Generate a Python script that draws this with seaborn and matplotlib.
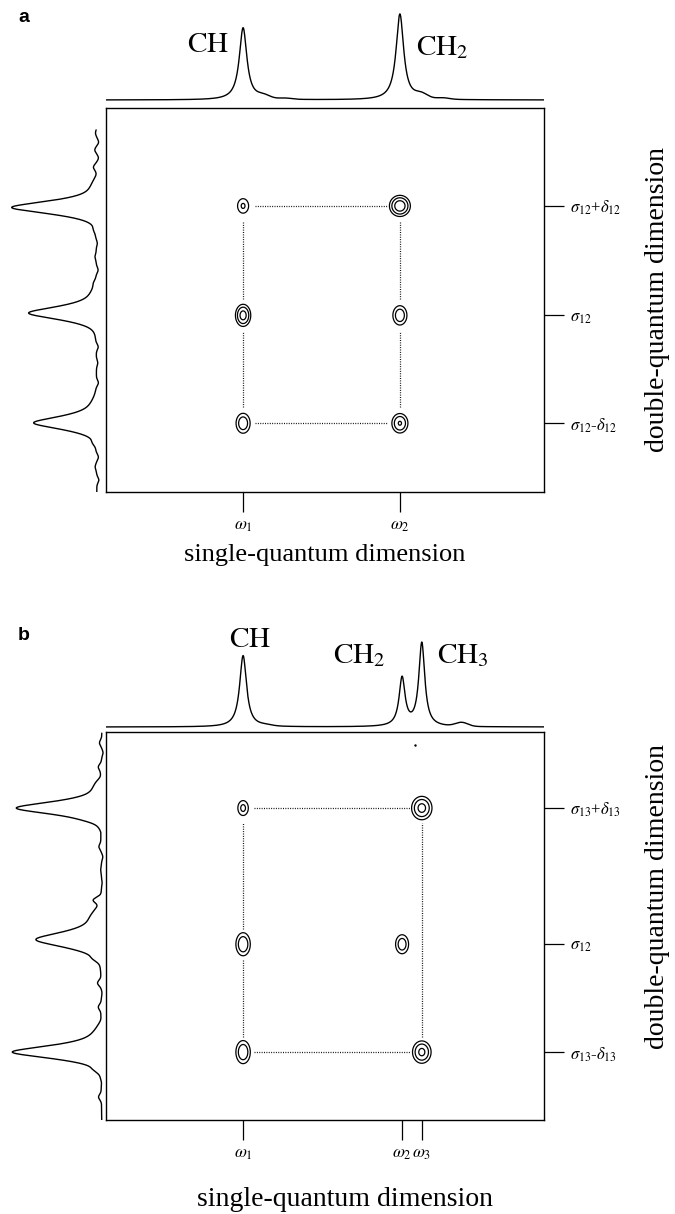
import numpy as np
import pandas as pd
import matplotlib
matplotlib.use("Agg")
import matplotlib.pyplot as plt
import seaborn as sns

# ---------------- data (arbitrary frequency units, 0-100 across each 2D box) ----------------
# ---- panel a : single-quantum (top) projection
a_sq_pos = [31.3, 67.1]            # CH, CH2
a_sq_height = [0.84, 1.0]
a_sq_hwhm = [1.05, 1.05]
a_sq_minor_pos = [36.0, 72.0, 41.0, 77.0]
a_sq_minor_amp = [0.035, 0.05, 0.012, 0.015]
# ---- panel a : double-quantum (left) projection
a_dq_pos = [74.1, 46.6, 18.0]
a_dq_height = [1.0, 0.80, 0.74]
a_dq_sigma = [1.8, 1.85, 1.85]
a_dq_shoulder_pos = [79.0, 51.3, 22.4]
a_dq_shoulder_amp = [0.05, 0.05, 0.05]
a_dq_ripple_pos = [93.5, 91.1, 89.1, 87.0, 84.6, 82.6, 68.2, 64.8, 61.2, 57.8, 54.4,
                   42.2, 37.8, 33.6, 28.4, 12.8, 9.1, 6.5, 3.1]
a_dq_ripple_amp = [0.015, -0.022, 0.022, -0.022, 0.033, -0.01, 0.015, -0.015, 0.015, -0.022, 0.015,
                   0.0, -0.025, -0.016, -0.025, 0.025, -0.025, 0.016, -0.025]
a_dq_extent = 94.3
# ---- panel a : cross peaks
a_omega = [31.3, 67.1]
a_omega_labels = [r"$\omega_1$", r"$\omega_2$"]
a_rows = [74.5, 46.0, 17.9]
a_row_labels = [r"$\sigma_{12}$+$\delta_{12}$", r"$\sigma_{12}$", r"$\sigma_{12}$-$\delta_{12}$"]
a_cross_sq = [31.3, 67.1, 31.3, 67.1, 31.3, 67.1]
a_cross_dq = [74.5, 74.5, 46.0, 46.0, 17.9, 17.9]
a_cross_amp = [0.55, 1.35, 1.15, 0.80, 0.80, 0.95]
a_cross_wsq = [1.00, 1.30, 1.00, 1.05, 1.05, 1.12]
a_cross_wdq = [1.50, 1.50, 1.65, 1.65, 1.70, 1.55]

# ---- panel b : single-quantum (top) projection
b_sq_pos = [31.3, 67.6, 72.1]      # CH, CH2, CH3
b_sq_height = [0.83, 0.56, 0.97]
b_sq_hwhm = [0.95, 0.82, 0.82]
b_sq_minor_pos = [81.2, 36.5]
b_sq_minor_amp = [0.045, 0.01]
# ---- panel b : double-quantum (left) projection
b_dq_pos = [80.4, 46.5, 17.5]
b_dq_height = [0.96, 0.74, 1.0]
b_dq_sigma = [1.8, 2.2, 1.8]
b_dq_shoulder_pos = [85.6, 52.3, 21.8]
b_dq_shoulder_amp = [0.07, 0.10, 0.07]
b_dq_ripple_pos = [97.2, 94.6, 91.0, 88.4, 77.3, 74.0, 70.4, 67.8, 64.4, 61.1, 56.7, 41.5,
                   39.4, 35.3, 32.7, 29.1, 25.8, 12.9, 9.5, 5.9, 2.6]
b_dq_ripple_amp = [0.025, -0.016, 0.032, -0.016, 0.032, -0.008, 0.025, -0.016, 0.008, -0.008, 0.08, 0.04,
                   0.0, 0.04, -0.008, 0.032, -0.008, 0.04, -0.008, 0.032, 0.0]
b_dq_extent = 99.7
# ---- panel b : cross peaks
b_omega = [31.3, 67.6, 72.1]
b_omega_labels = [r"$\omega_1$", r"$\omega_2$", r"$\omega_3$"]
b_rows = [80.4, 45.3, 17.5]
b_row_labels = [r"$\sigma_{13}$+$\delta_{13}$", r"$\sigma_{12}$", r"$\sigma_{13}$-$\delta_{13}$"]
b_cross_sq = [31.3, 72.1, 31.3, 67.6, 31.3, 72.1]
b_cross_dq = [80.4, 80.4, 45.3, 45.3, 17.5, 17.5]
b_cross_amp = [0.60, 1.10, 0.85, 0.75, 0.85, 1.05]
b_cross_wsq = [0.90, 1.35, 1.05, 1.00, 1.05, 1.25]
b_cross_wdq = [1.45, 1.75, 1.90, 1.65, 1.90, 1.70]
b_artifact_sq = [70.5]
b_artifact_dq = [96.6]

contour_levels = [0.25, 0.5, 0.9]

# ---------------- style ----------------
sns.set_theme(style="white")
plt.rcParams["font.family"] = ["Liberation Serif", "DejaVu Serif"]
plt.rcParams["mathtext.fontset"] = "stix"
plt.rcParams["text.color"] = "black"

W, H = 675, 1214
fig = plt.figure(figsize=(W / 100, H / 100), dpi=100)


def px_axes(x0, y0, x1, y1):
    return fig.add_axes([x0 / W, 1 - y1 / H, (x1 - x0) / W, (y1 - y0) / H])


sq_grid = np.linspace(0, 100, 2001)


def top_spectrum(pos, hts, hw, mpos, mamp):
    y = np.zeros_like(sq_grid)
    for p, h, g in zip(pos, hts, hw):
        y += h * g ** 2 / ((sq_grid - p) ** 2 + g ** 2)
    for p, a in zip(mpos, mamp):
        y += a * np.exp(-0.5 * ((sq_grid - p) / 1.4) ** 2)
    return pd.DataFrame({"sq": sq_grid, "I": y})


def left_spectrum(extent, pos, hts, sig, spos, samp, rpos, ramp):
    dq = np.linspace(0, extent, 1500)
    y = np.zeros_like(dq)
    for p, h, s in zip(pos, hts, sig):
        # pseudo-Voigt line: sharp tip, short tails
        g = np.exp(-0.5 * ((dq - p) / s) ** 2)
        l = 1.0 / (1.0 + ((dq - p) / (0.8 * s)) ** 2)
        y += h * (0.6 * g + 0.4 * l)
    for p, a in zip(spos, samp):
        y += a * np.exp(-0.5 * ((dq - p) / 2.0) ** 2)
    for p, a in zip(rpos, ramp):
        y += a * np.exp(-0.5 * ((dq - p) / 0.7) ** 2)
    return pd.DataFrame({"dq": dq, "I": y})


def cross_map(xs, ys, amps, wx, wy):
    X, Y = np.meshgrid(np.linspace(0, 100, 900), np.linspace(0, 100, 900))
    Z = np.zeros_like(X)
    for x0, y0, a, sx, sy in zip(xs, ys, amps, wx, wy):
        Z += a * np.exp(-0.5 * ((X - x0) / sx) ** 2 - 0.5 * ((Y - y0) / sy) ** 2)
    return X, Y, Z


def dotted_frame(ax, cols, rows, xs, ys, gx, gy):
    c0, c1 = min(cols), max(cols)
    r0, r1 = min(rows), max(rows)
    dot = dict(color="#111111", lw=0.9, linestyle=(0, (0.8, 1.1)))
    for r in (r0, r1):
        stops = sorted(x for x, y in zip(xs, ys) if abs(y - r) < 0.5 and c0 - 0.5 <= x <= c1 + 0.5)
        for a, b in zip(stops[:-1], stops[1:]):
            seg = pd.DataFrame({"x": [a + gx, b - gx], "y": [r, r]})
            sns.lineplot(data=seg, x="x", y="y", sort=False, estimator=None, ax=ax, **dot)
    for c in (c0, c1):
        stops = sorted(y for x, y in zip(xs, ys) if abs(x - c) < 0.5 and r0 - 0.5 <= y <= r1 + 0.5)
        for a, b in zip(stops[:-1], stops[1:]):
            seg = pd.DataFrame({"x": [c, c], "y": [a + gy, b - gy]})
            sns.lineplot(data=seg, x="x", y="y", sort=False, estimator=None, orient="y", ax=ax, **dot)


def panel(box, top_box, left_box, top_ylim, left_xlim, top_df, left_df, cross, omega, omega_labels,
          rows, row_labels, labels, xlabel_pos, ylabel_pos, gaps, xlabel_size, artifact=None):
    ax = px_axes(*box)
    axt = px_axes(*top_box)
    axl = px_axes(*left_box)

    sns.lineplot(data=top_df, x="sq", y="I", color="black", lw=1.0, ax=axt, estimator=None)
    axt.set_xlim(0, 100)
    axt.set_ylim(*top_ylim)
    axt.axis("off")
    for txt, x, y, ha in labels:
        axt.text(x, y, txt, ha=ha, va="baseline", fontsize=21, color="black")

    sns.lineplot(data=left_df, x="I", y="dq", sort=False, orient="y", estimator=None,
                 color="black", lw=1.0, ax=axl)
    axl.set_ylim(0, 100)
    axl.set_xlim(*left_xlim)
    axl.axis("off")

    X, Y, Z = cross_map(*cross)
    ax.contour(X, Y, Z, levels=contour_levels, colors="black", linewidths=0.9)
    dotted_frame(ax, [min(cross[0]), max(cross[0])], [min(rows), max(rows)], cross[0], cross[1], *gaps)
    if artifact is not None:
        sns.scatterplot(x=artifact[0], y=artifact[1], s=3, color="black", ax=ax, linewidth=0)
    ax.set_xlim(0, 100)
    ax.set_ylim(0, 100)
    for s in ax.spines.values():
        s.set_visible(True)
        s.set_color("black")
        s.set_linewidth(1.0)
    ax.set_xticks(omega)
    ax.set_xticklabels(omega_labels)
    ax.yaxis.tick_right()
    ax.set_yticks(rows)
    ax.set_yticklabels(row_labels)
    ax.tick_params(axis="x", bottom=True, top=False, direction="out", length=14.5, width=0.9,
                   pad=4, labelsize=12.5, colors="black")
    ax.tick_params(axis="y", right=True, left=False, direction="out", length=14.5, width=0.9,
                   pad=4, labelsize=12, colors="black")
    ax.set_xlabel("")
    ax.set_ylabel("")
    ax.text(xlabel_pos[0], xlabel_pos[1], "single-quantum dimension", transform=ax.transAxes,
            ha="center", va="center", fontsize=xlabel_size)
    ax.text(ylabel_pos[0], ylabel_pos[1], "double-quantum dimension", transform=ax.transAxes,
            ha="center", va="center", rotation=90, fontsize=20)
    return ax


# ---- panel a
panel(box=(106, 108, 544, 492), top_box=(106, 4, 544, 104), left_box=(4, 108, 106, 492),
      top_ylim=(-4 / 86, 96 / 86), left_xlim=((97 - 4) / 85, -(106 - 97) / 85),
      top_df=top_spectrum(a_sq_pos, a_sq_height, a_sq_hwhm, a_sq_minor_pos, a_sq_minor_amp),
      left_df=left_spectrum(a_dq_extent, a_dq_pos, a_dq_height, a_dq_sigma, a_dq_shoulder_pos,
                            a_dq_shoulder_amp, a_dq_ripple_pos, a_dq_ripple_amp),
      cross=(a_cross_sq, a_cross_dq, a_cross_amp, a_cross_wsq, a_cross_wdq),
      omega=a_omega, omega_labels=a_omega_labels, rows=a_rows, row_labels=a_row_labels,
      labels=[(r"$\mathrm{CH}$", 23.3, 0.56, "center"), (r"$\mathrm{CH}_2$", 70.8, 0.52, "left")],
      xlabel_pos=(0.5, -0.165), ylabel_pos=(1.26, 0.5), gaps=(2.8, 4.2), xlabel_size=19)

# ---- panel b
panel(box=(106, 732, 544, 1120), top_box=(106, 622, 544, 731), left_box=(4, 732, 106, 1120),
      top_ylim=(-4 / 86, 105 / 86), left_xlim=((102 - 4) / 89, -(106 - 102) / 89),
      top_df=top_spectrum(b_sq_pos, b_sq_height, b_sq_hwhm, b_sq_minor_pos, b_sq_minor_amp),
      left_df=left_spectrum(b_dq_extent, b_dq_pos, b_dq_height, b_dq_sigma, b_dq_shoulder_pos,
                            b_dq_shoulder_amp, b_dq_ripple_pos, b_dq_ripple_amp),
      cross=(b_cross_sq, b_cross_dq, b_cross_amp, b_cross_wsq, b_cross_wdq),
      omega=b_omega, omega_labels=b_omega_labels, rows=b_rows, row_labels=b_row_labels,
      labels=[(r"$\mathrm{CH}$", 32.9, 0.93, "center"), (r"$\mathrm{CH}_2$", 51.8, 0.744, "left"),
              (r"$\mathrm{CH}_3$", 75.6, 0.744, "left")],
      xlabel_pos=(0.545, -0.206), ylabel_pos=(1.26, 0.575), gaps=(2.6, 3.8), xlabel_size=20,
      artifact=(b_artifact_sq, b_artifact_dq))

fig.text(18 / W, 1 - 18 / H, "a", family="Liberation Sans", weight="bold", fontsize=14,
         ha="left", va="center", color="black")
fig.text(18 / W, 1 - 635 / H, "b", family="Liberation Sans", weight="bold", fontsize=14,
         ha="left", va="center", color="black")

fig.savefig("out.png", dpi=100)
